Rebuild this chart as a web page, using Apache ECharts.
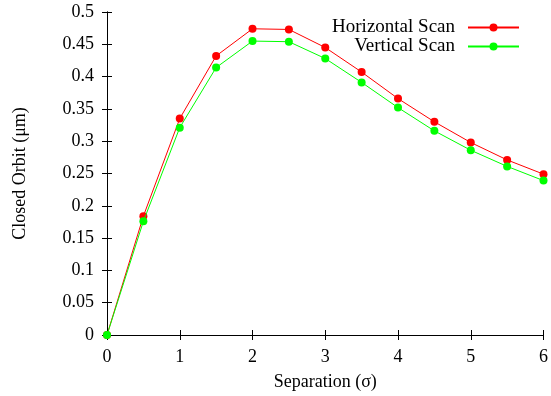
<!DOCTYPE html>
<html>
<head>
<meta charset="utf-8">
<script src="https://cdn.jsdelivr.net/npm/echarts@6/dist/echarts.min.js"></script>
<style>
  html, body { margin: 0; padding: 0; background: #fff; }
  #chart { width: 551px; height: 396px; }
</style>
</head>
<body>
<div id="chart"></div>
<script>
const separation = [0, 0.5, 1, 1.5, 2, 2.5, 3, 3.5, 4, 4.5, 5, 5.5, 6];
const horizontalScan = [0, 0.184, 0.335, 0.432, 0.474, 0.473, 0.445, 0.407, 0.366, 0.330, 0.298, 0.271, 0.249];
const verticalScan = [0, 0.176, 0.321, 0.414, 0.455, 0.454, 0.428, 0.391, 0.352, 0.316, 0.286, 0.261, 0.239];

const FONT = "Liberation Serif";
const pairs = (ys) => separation.map((x, i) => [x, ys[i]]);

const chart = echarts.init(document.getElementById("chart"), null, { renderer: "canvas" });

const frameAxis = {
  axisLine: { show: true, lineStyle: { color: "#000", width: 1 } },
  axisTick: { show: true, inside: true, length: 5, lineStyle: { color: "#000" } },
  splitLine: { show: false },
};

const legendBase = {
  orient: "vertical",
  right: 26,
  itemWidth: 51,
  itemHeight: 10,
  align: "right",
  textStyle: { fontFamily: FONT, fontSize: 19, color: "#000", padding: [0, 8, 0, 0] },
  selectedMode: false,
};

chart.setOption({
  backgroundColor: "#fff",
  animation: false,
  grid: { left: 107, right: 7, top: 12, bottom: 61 },
  legend: [
    { ...legendBase, top: 13, data: ["Horizontal Scan"] },
    { ...legendBase, top: 32, data: ["Vertical Scan"] },
  ],
  xAxis: [
    {
      ...frameAxis,
      type: "value",
      min: 0,
      max: 6,
      interval: 1,
      position: "bottom",
      name: "Separation (σ)",
      nameLocation: "middle",
      nameGap: 38,
      nameTextStyle: { fontFamily: FONT, fontSize: 18, color: "#000" },
      axisLabel: { fontFamily: FONT, fontSize: 18, color: "#000", margin: 13 },
    },
    {
      ...frameAxis,
      type: "value",
      min: 0,
      max: 6,
      interval: 1,
      position: "top",
      axisLabel: { show: false },
    },
  ],
  yAxis: [
    {
      ...frameAxis,
      type: "value",
      min: 0,
      max: 0.5,
      interval: 0.05,
      position: "left",
      name: "Closed Orbit (μm)",
      nameLocation: "middle",
      nameGap: 78,
      nameTextStyle: { fontFamily: FONT, fontSize: 18, color: "#000" },
      axisLabel: { fontFamily: FONT, fontSize: 18, color: "#000", margin: 13 },
    },
    {
      ...frameAxis,
      type: "value",
      min: 0,
      max: 0.5,
      interval: 0.05,
      position: "right",
      axisLabel: { show: false },
    },
  ],
  series: [
    {
      name: "Horizontal Scan",
      type: "line",
      data: pairs(horizontalScan),
      symbol: "circle",
      symbolSize: 8,
      clip: false,
      color: "#ff0000",
      lineStyle: { color: "#ff0000", width: 1 },
      itemStyle: { color: "#ff0000" },
      z: 2,
    },
    {
      name: "Vertical Scan",
      type: "line",
      data: pairs(verticalScan),
      symbol: "circle",
      symbolSize: 8,
      clip: false,
      color: "#00ff00",
      lineStyle: { color: "#00ff00", width: 1 },
      itemStyle: { color: "#00ff00" },
      z: 3,
    },
  ],
});
</script>
</body>
</html>
